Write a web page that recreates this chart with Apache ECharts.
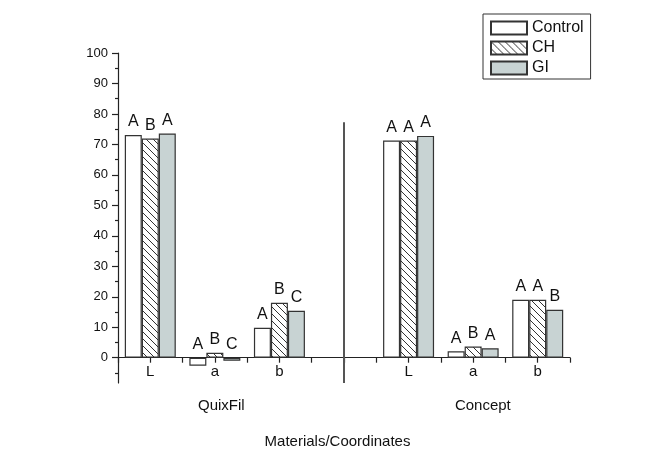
<!DOCTYPE html>
<html><head><meta charset="utf-8">
<script src="https://cdn.jsdelivr.net/npm/echarts@6/dist/echarts.min.js"></script>
<style>html,body{margin:0;padding:0;background:#fff}#c{width:662px;height:461px}</style>
</head><body><div id="c"></div>
<script>
const categories = ['L', 'a', 'b', '', 'L', 'a', 'b'];
const groupNames = ['QuixFil', 'Concept'];
const groupPositions = [2.1, 6.15];
const seriesNames = ['Control', 'CH', 'GI'];
const controlValues = [73.1, -2.6, 9.8, null, 71.3, 2.1, 19.0];
const chValues = [71.9, 1.6, 18.0, null, 71.3, 3.7, 19.0];
const giValues = [73.6, -1.0, 15.4, null, 72.8, 3.1, 15.7];
const controlLetters = ['A', 'A', 'A', '', 'A', 'A', 'A'];
const chLetters = ['B', 'B', 'B', '', 'A', 'B', 'A'];
const giLetters = ['A', 'C', 'C', '', 'A', 'A', 'B'];
const yTickValues = [0, 10, 20, 30, 40, 50, 60, 70, 80, 90, 100];
const yMinorTickValues = [-5, 5, 15, 25, 35, 45, 55, 65, 75, 85, 95];
const separatorX = [4, 4];
const separatorY = [-8.3, 77.3];

const FONT = 'Liberation Sans, Arial, Helvetica, sans-serif';
const TXT = '#111';

function hatch() {
  const s = 7;
  const cv = document.createElement('canvas');
  cv.width = s; cv.height = s;
  const g = cv.getContext('2d');
  g.fillStyle = '#fff'; g.fillRect(0, 0, s, s);
  g.strokeStyle = '#333'; g.lineWidth = 1;
  g.beginPath();
  for (const k of [-s, 0, s]) { g.moveTo(k, 0); g.lineTo(k + s, s); }
  g.stroke();
  return cv;
}

function toData(vals) {
  const out = [];
  vals.forEach((v, i) => { if (v !== null) out.push({ value: [i + 1, v] }); });
  return out;
}

function barSeries(name, vals, letters, color) {
  return {
    name: name, type: 'bar', xAxisIndex: 0, yAxisIndex: 0,
    barWidth: 17, barGap: '0%',
    data: toData(vals),
    itemStyle: { color: color, borderColor: '#333', borderWidth: 1.2 },
    label: {
      show: true, position: 'top', distance: 5,
      fontFamily: FONT, fontSize: 16, color: TXT,
      formatter: p => letters[p.value[0] - 1]
    },
    emphasis: { disabled: true },
    animation: false
  };
}

const chart = echarts.init(document.getElementById('c'));
chart.setOption({
  backgroundColor: '#fff',
  animation: false,
  grid: { left: 118, right: 92, top: 53, bottom: 78 },
  legend: {
    data: seriesNames,
    orient: 'vertical', left: 483, top: 14,
    padding: [6, 7, 3, 7], itemGap: 4,
    itemWidth: 36, itemHeight: 13,
    borderColor: '#333', borderWidth: 1,
    icon: 'rect',
    textStyle: { fontFamily: FONT, fontSize: 16, color: TXT, lineHeight: 14 }
  },
  xAxis: [{
    type: 'value', min: 0.5, max: 7.5, interval: 0.5,
    position: 'bottom',
    axisLine: { show: true, onZero: true, lineStyle: { color: '#222', width: 1.2 } },
    axisTick: { show: true, length: 5, lineStyle: { color: '#222', width: 1.2 } },
    axisLabel: {
      fontFamily: FONT, fontSize: 15, color: TXT, margin: -19,
      formatter: v => Number.isInteger(v) ? categories[v - 1] : ''
    },
    splitLine: { show: false }
  }, {
    type: 'value', min: 0.5, max: 7.5,
    position: 'bottom',
    axisLine: { show: false, onZero: false },
    axisTick: { show: false },
    axisLabel: {
      customValues: groupPositions, fontFamily: FONT, fontSize: 15, color: TXT, margin: 15,
      formatter: v => groupNames[groupPositions.indexOf(v)] || ''
    },
    splitLine: { show: false },
    name: 'Materials/Coordinates', nameLocation: 'middle', nameGap: 51,
    nameTextStyle: { fontFamily: FONT, fontSize: 15, color: TXT, padding: [0, 13, 0, 0] }
  }],
  yAxis: [{
    type: 'value', min: -8.3, max: 100, position: 'left',
    axisLine: { show: true, lineStyle: { color: '#222', width: 1.2 } },
    axisTick: { show: true, customValues: yTickValues, length: 6, lineStyle: { color: '#222', width: 1.2 } },
    axisLabel: { customValues: yTickValues, fontFamily: FONT, fontSize: 13, color: TXT, margin: 10 },
    splitLine: { show: false }
  }, {
    type: 'value', min: -8.3, max: 100, position: 'left',
    axisLine: { show: false, onZero: false },
    axisTick: { show: true, customValues: yMinorTickValues, length: 3, lineStyle: { color: '#222', width: 1.2 } },
    axisLabel: { show: false },
    splitLine: { show: false }
  }],
  series: [
    barSeries('Control', controlValues, controlLetters, '#ffffff'),
    barSeries('CH', chValues, chLetters, { image: hatch(), repeat: 'repeat' }),
    barSeries('GI', giValues, giLetters, '#c8d3d3'),
    {
      type: 'line', xAxisIndex: 0, yAxisIndex: 0,
      data: separatorX.map((x, i) => [x, separatorY[i]]),
      symbol: 'none', silent: true,
      lineStyle: { color: '#555', width: 2 },
      z: 1, animation: false
    }
  ]
});
</script></body></html>
